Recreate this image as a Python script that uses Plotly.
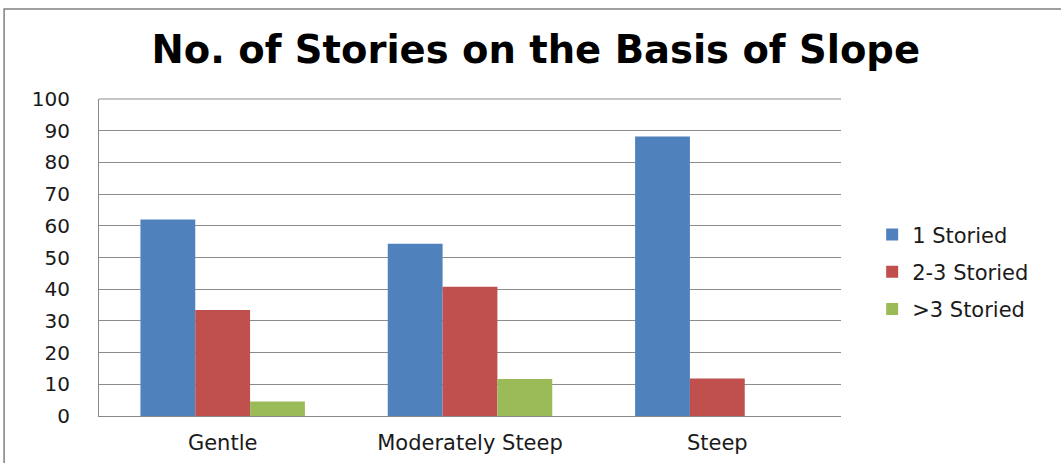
import plotly.graph_objects as go

categories = ["Gentle", "Moderately Steep", "Steep"]
one_storied = [62, 54.3, 88.2]
two_three_storied = [33.4, 40.8, 11.8]
above_three_storied = [4.6, 11.7, 0]
series_names = ["1 Storied", "2-3 Storied", ">3 Storied"]
colors = ["#4F81BD", "#C0504D", "#9BBB59"]
y_ticks = [0, 10, 20, 30, 40, 50, 60, 70, 80, 90, 100]

fig = go.Figure()
for i, (name, vals, col) in enumerate(zip(series_names,
                                          [one_storied, two_three_storied, above_three_storied],
                                          colors)):
    fig.add_trace(go.Bar(
        x=categories, y=vals, name=name,
        marker=dict(color=col, line=dict(width=0)),
        legendgroup=f"g{i}",
    ))

fig.update_layout(
    width=1061, height=463,
    margin=dict(l=99, r=220, t=99, b=47, autoexpand=False),
    paper_bgcolor="white", plot_bgcolor="white",
    barmode="group", bargap=0.335, bargroupgap=0,
    title=dict(text="<b>No. of Stories on the Basis of Slope</b>",
               x=0.505, xanchor="center", xref="container",
               y=0.893, yanchor="middle",
               font=dict(family="DejaVu Sans", size=38.5, color="black")),
    font=dict(family="DejaVu Sans", size=20, color="#1a1a1a"),
    showlegend=True,
    legend=dict(x=1.042, y=0.455, xanchor="left", yanchor="middle",
                traceorder="grouped", tracegroupgap=7,
                font=dict(family="DejaVu Sans", size=21, color="#1a1a1a"),
                itemwidth=30, bgcolor="rgba(0,0,0,0)"),
    xaxis=dict(showgrid=False, showline=True, linecolor="#888888", linewidth=1,
               ticks="", tickfont=dict(size=21), ticklabelstandoff=8,
               automargin=False, fixedrange=True),
    yaxis=dict(range=[0, 100], tickvals=y_ticks, showgrid=True,
               gridcolor="#8c8c8c", gridwidth=1, showline=True,
               linecolor="#888888", linewidth=1, ticks="", ticklen=0,
               tickfont=dict(size=20), ticklabelstandoff=24,
               automargin=False, zeroline=False, fixedrange=True),
    shapes=[dict(type="rect", xref="paper", yref="paper",
                 x0=-0.1279, x1=1.5, y0=-0.5, y1=1.284,
                 line=dict(color="#808080", width=1.5), fillcolor="rgba(0,0,0,0)",
                 layer="below")],
)
fig.add_shape(type="line", xref="paper", yref="paper", x0=0, x1=1, y0=1, y1=1,
              line=dict(color="#8c8c8c", width=1))

fig.write_html("out.html")
